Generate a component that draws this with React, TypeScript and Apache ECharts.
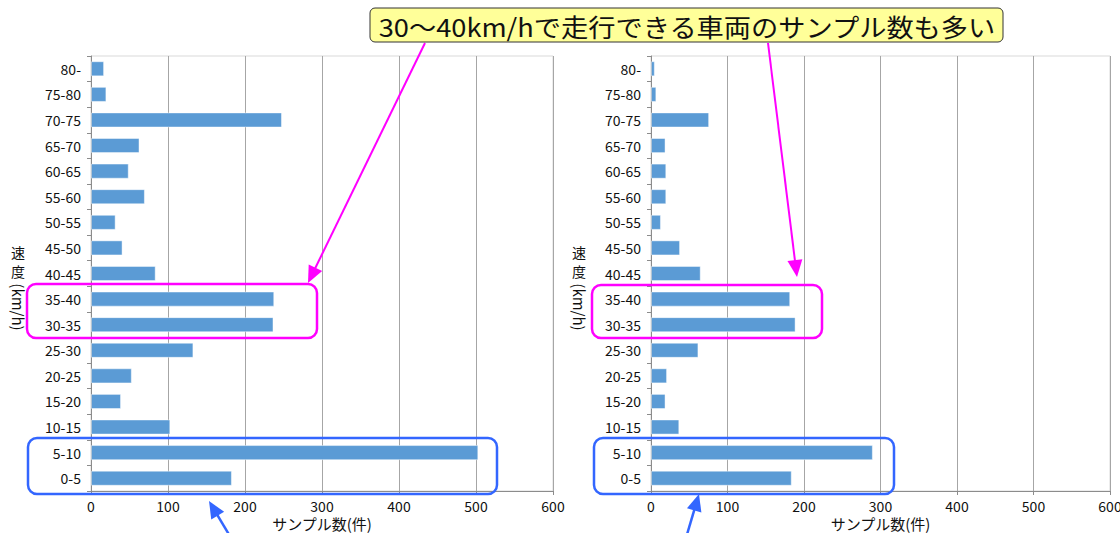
import React, { useEffect, useRef } from "react";
import * as echarts from "echarts";

// Speed bins (km/h), bottom to top
const speedBins = [
  "0-5", "5-10", "10-15", "15-20", "20-25", "25-30", "30-35", "35-40",
  "40-45", "45-50", "50-55", "55-60", "60-65", "65-70", "70-75", "75-80", "80-",
];

// Sample counts per speed bin
const samplesLeft = [183, 503, 103, 39, 53, 133, 237, 238, 84, 41, 32, 70, 49, 63, 248, 20, 17];
const samplesRight = [184, 290, 37, 19, 21, 62, 189, 182, 65, 38, 13, 20, 20, 19, 76, 7, 5];

const xTicks = [0, 100, 200, 300, 400, 500, 600];

const FONT = "'Noto Sans CJK JP', 'Noto Sans', sans-serif";
const BAR = "#5b9bd5";
const GRID_LINE = "#a6a6a6";
const MAGENTA = "#ff00ff";
const BLUE = "#3366ff";

// Straight arrow from (x1,y1) to the tip (x2,y2) with a filled triangular head
function arrow(x1: number, y1: number, x2: number, y2: number, color: string, lw: number) {
  const dx = x2 - x1;
  const dy = y2 - y1;
  const len = Math.hypot(dx, dy);
  const ux = dx / len;
  const uy = dy / len;
  const headLen = 17;
  const headHalf = 7.5;
  const bx = x2 - ux * headLen;
  const by = y2 - uy * headLen;
  const nx = -uy * headHalf;
  const ny = ux * headHalf;
  return [
    {
      type: "line",
      shape: { x1, y1, x2: bx + ux * 2, y2: by + uy * 2 },
      style: { stroke: color, lineWidth: lw },
      z: 100,
    },
    {
      type: "polygon",
      shape: { points: [[x2, y2], [bx + nx, by + ny], [bx - nx, by - ny]] },
      style: { fill: color },
      z: 100,
    },
  ];
}

function frame(x: number, y: number, w: number, h: number, color: string) {
  return {
    type: "rect",
    shape: { x, y, width: w, height: h, r: 9 },
    style: { fill: "none", stroke: color, lineWidth: 2.5 },
    z: 100,
  };
}

// Vertical axis title: "速度" upright, "(km/h)" turned to read downwards
function speedTitle(cx: number) {
  const glyph = (ch: string, y: number) => ({
    type: "text",
    x: cx,
    y,
    style: { text: ch, font: `14px ${FONT}`, fill: "#111", align: "center", verticalAlign: "middle" },
    z: 100,
  });
  return [
    glyph("速", 252),
    glyph("度", 271),
    {
      type: "text",
      x: cx,
      y: 307,
      rotation: -Math.PI / 2,
      style: { text: "(km/h)", font: `15px ${FONT}`, fill: "#111", align: "center", verticalAlign: "middle" },
      z: 100,
    },
  ];
}

function xAxisCfg(gridIndex: number) {
  return {
    type: "value",
    gridIndex,
    min: xTicks[0],
    max: xTicks[xTicks.length - 1],
    interval: 100,
    name: "サンプル数(件)",
    nameLocation: "middle",
    nameGap: 25,
    nameMoveOverlap: false,
    nameTextStyle: { fontFamily: FONT, fontSize: 15, lineHeight: 15, color: "#111" },
    axisLine: { show: true, lineStyle: { color: "#8c8c8c", width: 1 } },
    axisTick: { show: true, length: 4, lineStyle: { color: "#8c8c8c" } },
    axisLabel: { fontFamily: FONT, fontSize: 14, lineHeight: 14, color: "#111", margin: 8 },
    splitLine: { show: true, lineStyle: { color: GRID_LINE, width: 1 } },
  };
}

function yAxisCfg(gridIndex: number) {
  return {
    type: "category",
    gridIndex,
    data: speedBins,
    axisLine: { show: true, lineStyle: { color: "#8c8c8c", width: 1 } },
    axisTick: { show: true, length: 4, lineStyle: { color: "#8c8c8c" } },
    axisLabel: { fontFamily: FONT, fontSize: 14, color: "#111", margin: 10 },
    splitLine: { show: false },
  };
}

function barSeries(index: number, data: number[]) {
  return {
    type: "bar",
    xAxisIndex: index,
    yAxisIndex: index,
    data,
    barCategoryGap: "41%",
    itemStyle: { color: BAR, borderColor: "rgba(255,255,255,0.45)", borderWidth: 1 },
  };
}

const gridBase = {
  top: 56,
  bottom: 42,
  containLabel: false,
  outerBoundsMode: "none",
  show: true,
  borderColor: "#d9d9d9",
  borderWidth: 1,
  backgroundColor: "transparent",
};

export default function App() {
  const ref = useRef<HTMLDivElement>(null);

  useEffect(() => {
    if (!ref.current) return;
    const chart = echarts.init(ref.current, undefined, { renderer: "svg" });
    chart.setOption({
      animation: false,
      backgroundColor: "#ffffff",
      textStyle: { fontFamily: FONT },
      grid: [
        { ...gridBase, left: 91, right: 567 },
        { ...gridBase, left: 651, right: 10 },
      ],
      xAxis: [xAxisCfg(0), xAxisCfg(1)],
      yAxis: [yAxisCfg(0), yAxisCfg(1)],
      series: [barSeries(0, samplesLeft), barSeries(1, samplesRight)],
      graphic: [
        ...speedTitle(18),
        ...speedTitle(579),
        frame(27, 284, 290, 54, MAGENTA),
        frame(592, 285, 230, 53, MAGENTA),
        frame(28, 438, 469, 56, BLUE),
        frame(594, 438, 300, 56, BLUE),
        ...arrow(425, 43, 308, 283, MAGENTA, 2),
        ...arrow(768, 43, 797, 277, MAGENTA, 2),
        ...arrow(237, 548, 209, 501, BLUE, 2.5),
        ...arrow(683, 548, 699, 494, BLUE, 2.5),
        {
          type: "rect",
          shape: { x: 370, y: 8, width: 633, height: 34, r: 5 },
          style: { fill: "#ffff99", stroke: "#333333", lineWidth: 1 },
          z: 110,
        },
        {
          type: "text",
          x: 687,
          y: 26,
          scaleX: 1.09,
          style: {
            text: "30～40km/hで走行できる車両のサンプル数も多い",
            font: `25px ${FONT}`,
            fill: "#111",
            align: "center",
            verticalAlign: "middle",
          },
          z: 111,
        },
      ],
    });
    return () => chart.dispose();
  }, []);

  return (
    <div
      ref={ref}
      style={{ position: "absolute", left: 0, top: 0, width: 1120, height: 533 }}
    />
  );
}
